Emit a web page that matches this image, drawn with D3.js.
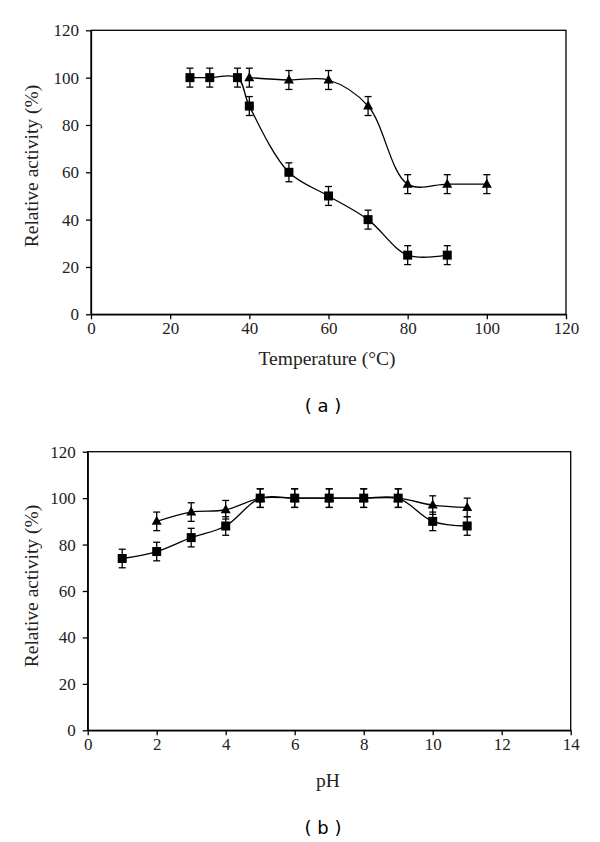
<!DOCTYPE html>
<html><head><meta charset="utf-8">
<script src="https://cdn.jsdelivr.net/npm/d3@7"></script>
<style>body{margin:0;background:#fff}svg{display:block}</style>
</head><body>
<script>
// Panel (a): temperature
const tempSquareX = [25, 30, 37, 40, 50, 60, 70, 80, 90];
const tempSquareY = [100, 100, 100, 88, 60, 50, 40, 25, 25];
const tempTriX = [40, 50, 60, 70, 80, 90, 100];
const tempTriY = [100, 99, 99, 88, 55, 55, 55];
const tempErr = 4;
const tempXTicks = [0, 20, 40, 60, 80, 100, 120];
const tempYTicks = [0, 20, 40, 60, 80, 100, 120];
// Panel (b): pH
const phSquareX = [1, 2, 3, 4, 5, 6, 7, 8, 9, 10, 11];
const phSquareY = [74, 77, 83, 88, 100, 100, 100, 100, 100, 90, 88];
const phTriX = [2, 3, 4, 5, 6, 7, 8, 9, 10, 11];
const phTriY = [90, 94, 95, 100, 100, 100, 100, 100, 97, 96];
const phErr = 4;
const phXTicks = [0, 2, 4, 6, 8, 10, 12, 14];
const phYTicks = [0, 20, 40, 60, 80, 100, 120];

const svg = d3.select("body").append("svg").attr("width", 600).attr("height", 842);
const serif = "'Liberation Serif', 'Times New Roman', serif";

function panel(o) {
  const x = d3.scaleLinear().domain([0, o.xmax]).range([o.left, o.right]);
  const y = d3.scaleLinear().domain([0, 120]).range([o.bottom, o.top]);
  const g = svg.append("g");
  g.append("rect").attr("x", o.left).attr("y", o.top)
    .attr("width", o.right - o.left).attr("height", o.bottom - o.top)
    .attr("fill", "none").attr("stroke", "#000").attr("stroke-width", 1.3);
  const xa = g.append("g").attr("transform", `translate(0,${o.bottom})`)
    .call(d3.axisBottom(x).tickValues(o.xticks).tickSize(5).tickSizeOuter(0).tickPadding(3));
  const ya = g.append("g").attr("transform", `translate(${o.left},0)`)
    .call(d3.axisLeft(y).tickValues(o.yticks).tickSize(5).tickSizeOuter(0).tickPadding(7));
  [xa, ya].forEach(a => {
    a.select(".domain").attr("stroke", "#000").attr("stroke-width", 1.3);
    a.selectAll(".tick line").attr("stroke", "#000").attr("stroke-width", 1.3);
    a.selectAll("text").attr("font-family", serif).attr("font-size", 17).attr("fill", "#222");
  });
  const curve = d3.curveCatmullRom.alpha(0.5);
  const line = d3.line().x(d => x(d[0])).y(d => y(d[1])).curve(curve);
  const series = [
    {xs: o.triX, ys: o.triY, shape: "tri"},
    {xs: o.sqX, ys: o.sqY, shape: "sq"}
  ];
  series.forEach(s => {
    const pts = s.xs.map((v, i) => [v, s.ys[i]]);
    g.append("path").datum(pts).attr("d", line).attr("fill", "none")
      .attr("stroke", "#000").attr("stroke-width", 1.3);
  });
  series.forEach(s => {
    const pts = s.xs.map((v, i) => [v, s.ys[i]]);
    const eg = g.append("g");
    pts.forEach(p => {
      const cx = x(p[0]), y1 = y(p[1] + o.err), y2 = y(p[1] - o.err);
      eg.append("line").attr("x1", cx).attr("x2", cx).attr("y1", y1).attr("y2", y2)
        .attr("stroke", "#000").attr("stroke-width", 1.3);
      [y1, y2].forEach(yy => eg.append("line").attr("x1", cx - 3.5).attr("x2", cx + 3.5)
        .attr("y1", yy).attr("y2", yy).attr("stroke", "#000").attr("stroke-width", 1.3));
      if (s.shape === "sq") {
        eg.append("rect").attr("x", cx - 4.5).attr("y", y(p[1]) - 4.5)
          .attr("width", 9).attr("height", 9).attr("fill", "#000");
      } else {
        const cy = y(p[1]);
        eg.append("path").attr("d", `M${cx},${cy - 5.5}L${cx + 5},${cy + 3.5}L${cx - 5},${cy + 3.5}Z`)
          .attr("fill", "#000");
      }
    });
  });
  g.append("text").attr("x", o.xTitleX).attr("y", o.xTitleY)
    .attr("text-anchor", "middle").attr("font-family", serif).attr("font-size", 19.5)
    .attr("fill", "#222").text(o.xTitle);
  g.append("text").attr("transform", `translate(${o.yTitleX},${o.yTitleY}) rotate(-90)`)
    .attr("text-anchor", "middle").attr("font-family", serif).attr("font-size", 19.5)
    .attr("fill", "#222").text("Relative activity (%)");
  g.append("text").attr("x", 323).attr("y", o.capY)
    .attr("text-anchor", "middle").attr("font-family", "'DejaVu Sans', sans-serif").attr("font-size", 18)
    .attr("fill", "#000").text(o.cap);
}

panel({left: 91, right: 566, top: 30.3, bottom: 314.3, xmax: 120,
  xticks: tempXTicks, yticks: tempYTicks, sqX: tempSquareX, sqY: tempSquareY,
  triX: tempTriX, triY: tempTriY, err: tempErr, xTitle: "Temperature (°C)",
  xTitleX: 327, xTitleY: 365, yTitleX: 38, yTitleY: 166, cap: "( a )", capY: 412});
panel({left: 87.7, right: 570.7, top: 451.7, bottom: 730.3, xmax: 14,
  xticks: phXTicks, yticks: phYTicks, sqX: phSquareX, sqY: phSquareY,
  triX: phTriX, triY: phTriY, err: phErr, xTitle: "pH",
  xTitleX: 328, xTitleY: 787, yTitleX: 38, yTitleY: 586, cap: "( b )", capY: 834});
</script>
</body></html>
